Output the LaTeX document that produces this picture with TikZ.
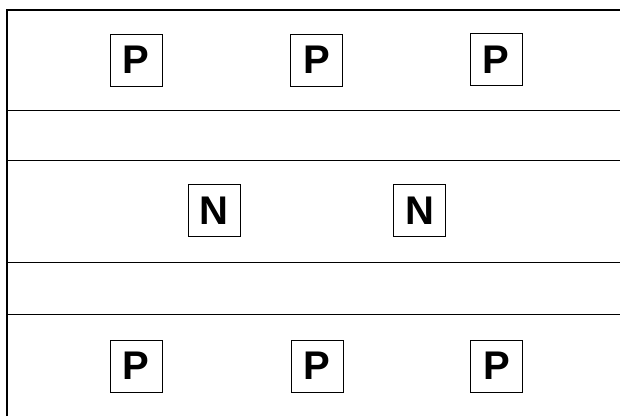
\documentclass[tikz,border=0pt]{standalone}
\usepackage{fontspec}
\setmainfont{Liberation Sans}
\usetikzlibrary{positioning}
\tikzset{
  cellbox/.style={draw,thin,minimum size=52pt,inner sep=0pt,font=\fontsize{40}{40}\selectfont\bfseries}
}

\begin{document}
\begin{tikzpicture}[x=1pt,y=-1pt]
\useasboundingbox (0,0) rectangle (620,416);
% frame
\draw[line width=2.5pt] (7,416) -- (7,10) -- (620,10);
% layer lines
\foreach \y in {110,160,262,314} {
  \draw[thin] (7,\y) -- (620,\y);
}
% top row
\node[cellbox] (p1) at (136,60) {P};
\node[cellbox] (p2) at (316.5,60) {P};
\node[cellbox] (p3) at (496,59.5) {P};
% middle row
\node[cellbox] (n1) at (214,210.5) {N};
\node[cellbox] (n2) at (419.5,210.5) {N};
% bottom row
\node[cellbox] (p4) at (136,366) {P};
\node[cellbox] (p5) at (317,366) {P};
\node[cellbox] (p6) at (496.5,366) {P};
\end{tikzpicture}
\end{document}
